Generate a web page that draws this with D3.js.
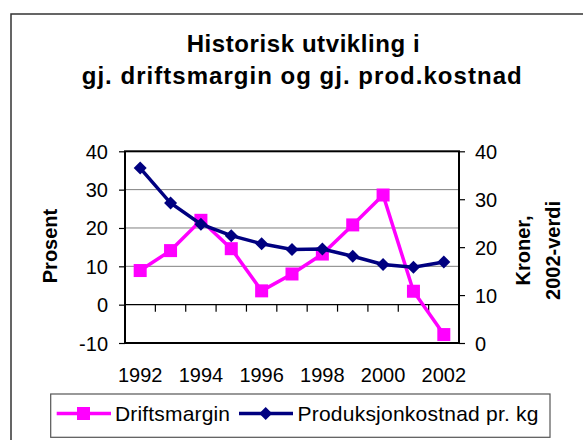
<!DOCTYPE html>
<html><head><meta charset="utf-8">
<script src="https://cdn.jsdelivr.net/npm/d3@7/dist/d3.min.js"></script>
<style>body{margin:0;background:#fff}svg{display:block;font-family:"Liberation Sans",Arial,sans-serif}</style>
</head><body><svg id="c" width="583" height="440"></svg>
<script>
const years = ["1992","1993","1994","1995","1996","1997","1998","1999","2000","2001","2002"];
const xTickLabels = ["1992","1994","1996","1998","2000","2002"];
const driftsmargin = [8.9, 14.1, 22, 14.6, 3.6, 8, 13.2, 20.8, 28.6, 3.5, -7.8];
const prodkostnad = [36.5, 29.2, 24.8, 22.4, 20.7, 19.5, 19.6, 18.1, 16.4, 15.8, 16.9];
const leftTicks = [-10, 0, 10, 20, 30, 40];
const rightTicks = [0, 10, 20, 30, 40];
const titleLines = ["Historisk utvikling i", "gj. driftsmargin og gj. prod.kostnad"];
const seriesNames = ["Driftsmargin", "Produksjonkostnad pr. kg"];
const PINK = "#FF00FF", NAVY = "#000080";

const svg = d3.select("#c");
const L = 125, R = 459, T = 151.3, B = 343;
const fmt = d => String(d); // plain hyphen minus, as in the reference

// outer frame
svg.append("rect").attr("x", 11).attr("y", 14).attr("width", 640).attr("height", 500)
  .attr("fill", "none").attr("stroke", "#333").attr("stroke-width", 1.5);

// title
const tl = [{x:186.7, y:51.7, w:233}, {x:81.7, y:84, w:440}];
titleLines.forEach((t,i)=>{
  svg.append("text").attr("x", tl[i].x).attr("y", tl[i].y).attr("font-size", 24).attr("font-weight","bold")
    .attr("textLength", tl[i].w).attr("lengthAdjust","spacing").text(t);
});

const x = d3.scaleBand().domain(years).range([L, R]).paddingInner(0).paddingOuter(0);
const cx = d => x(d) + x.bandwidth()/2;
const yL = d3.scaleLinear().domain([-10, 40]).range([B, T]);
const yR = d3.scaleLinear().domain([0, 40]).range([B, T]);

// gridlines
svg.append("g").selectAll("line").data([10,20,30]).join("line")
  .attr("x1", L).attr("x2", R).attr("y1", d=>yL(d)).attr("y2", d=>yL(d))
  .attr("stroke", "#808080").attr("stroke-width", 1);

// category axis at 0, ticks between categories
svg.append("g").selectAll("line").data(years.slice(1)).join("line")
  .attr("x1", d=>x(d)).attr("x2", d=>x(d)).attr("y1", yL(0)).attr("y2", yL(0)+7).attr("stroke","#000").attr("stroke-width",1.2);
svg.append("line").attr("x1", L).attr("x2", R).attr("y1", yL(0)).attr("y2", yL(0)).attr("stroke","#000").attr("stroke-width",1.2);

// x labels
svg.append("g").selectAll("text").data(xTickLabels).join("text")
  .attr("x", d=>cx(d)).attr("y", 382).attr("text-anchor","middle").attr("font-size", 20).text(d=>d);

// left axis
const gl = svg.append("g").attr("transform", `translate(${L},0)`)
  .call(d3.axisLeft(yL).tickValues(leftTicks).tickSize(6).tickPadding(11).tickFormat(fmt));
gl.select(".domain").remove();
gl.selectAll(".tick line").attr("stroke","#000").attr("stroke-width",1.2);
gl.selectAll(".tick text").attr("font-size", 20).attr("font-family","Liberation Sans, Arial, sans-serif").attr("fill","#000").attr("dy","0.35em");

// right axis
const gr = svg.append("g").attr("transform", `translate(${R},0)`)
  .call(d3.axisRight(yR).tickValues(rightTicks).tickSize(6).tickPadding(10).tickFormat(fmt));
gr.select(".domain").remove();
gr.selectAll(".tick line").attr("stroke","#000").attr("stroke-width",1.2);
gr.selectAll(".tick text").attr("font-size", 20).attr("font-family","Liberation Sans, Arial, sans-serif").attr("fill","#000").attr("dy","0.35em");

// plot border
svg.append("rect").attr("x", L).attr("y", T).attr("width", R-L).attr("height", B-T)
  .attr("fill","none").attr("stroke","#000").attr("stroke-width", 2);

// axis titles
svg.append("text").attr("transform", `translate(56.5,246) rotate(-90)`).attr("text-anchor","middle")
  .attr("font-size", 20).attr("font-weight","bold").text("Prosent");
svg.append("text").attr("transform", `translate(529.5,250.5) rotate(-90)`).attr("text-anchor","middle")
  .attr("font-size", 20).attr("font-weight","bold").text("Kroner,");
svg.append("text").attr("transform", `translate(560,250.5) rotate(-90)`).attr("text-anchor","middle")
  .attr("font-size", 20).attr("font-weight","bold").text("2002-verdi");

// series
const lineL = d3.line().x((d,i)=>cx(years[i])).y(d=>yL(d));
const lineR = d3.line().x((d,i)=>cx(years[i])).y(d=>yR(d));
svg.append("path").attr("d", lineL(driftsmargin)).attr("fill","none").attr("stroke",PINK).attr("stroke-width",3.5);
const sq = 13;
svg.append("g").selectAll("rect").data(driftsmargin).join("rect")
  .attr("x",(d,i)=>cx(years[i])-sq/2).attr("y",d=>yL(d)-sq/2).attr("width",sq).attr("height",sq).attr("fill",PINK);
svg.append("path").attr("d", lineR(prodkostnad)).attr("fill","none").attr("stroke",NAVY).attr("stroke-width",3.5);
const dm = 6.5;
const diamond = (px,py)=>`M${px},${py-dm}L${px+dm},${py}L${px},${py+dm}L${px-dm},${py}Z`;
svg.append("g").selectAll("path").data(prodkostnad).join("path")
  .attr("d",(d,i)=>diamond(cx(years[i]), yR(d))).attr("fill",NAVY);

// legend
svg.append("rect").attr("x",50.7).attr("y",394).attr("width",499.3).attr("height",43.3)
  .attr("fill","#fff").attr("stroke","#555").attr("stroke-width",1.2);
const ly = 413.5;
svg.append("line").attr("x1",56.7).attr("x2",111).attr("y1",ly).attr("y2",ly).attr("stroke",PINK).attr("stroke-width",3.5);
svg.append("rect").attr("x",83.5-sq/2).attr("y",ly-sq/2).attr("width",sq).attr("height",sq).attr("fill",PINK);
svg.append("text").attr("x",115).attr("y",420.5).attr("font-size",21).attr("textLength",115).attr("lengthAdjust","spacing").text(seriesNames[0]);
svg.append("line").attr("x1",239).attr("x2",293).attr("y1",ly).attr("y2",ly).attr("stroke",NAVY).attr("stroke-width",3.5);
svg.append("path").attr("d",diamond(265.7,ly)).attr("fill",NAVY);
svg.append("text").attr("x",297.5).attr("y",420.5).attr("font-size",21).attr("textLength",241).attr("lengthAdjust","spacing").text(seriesNames[1]);
</script></body></html>
